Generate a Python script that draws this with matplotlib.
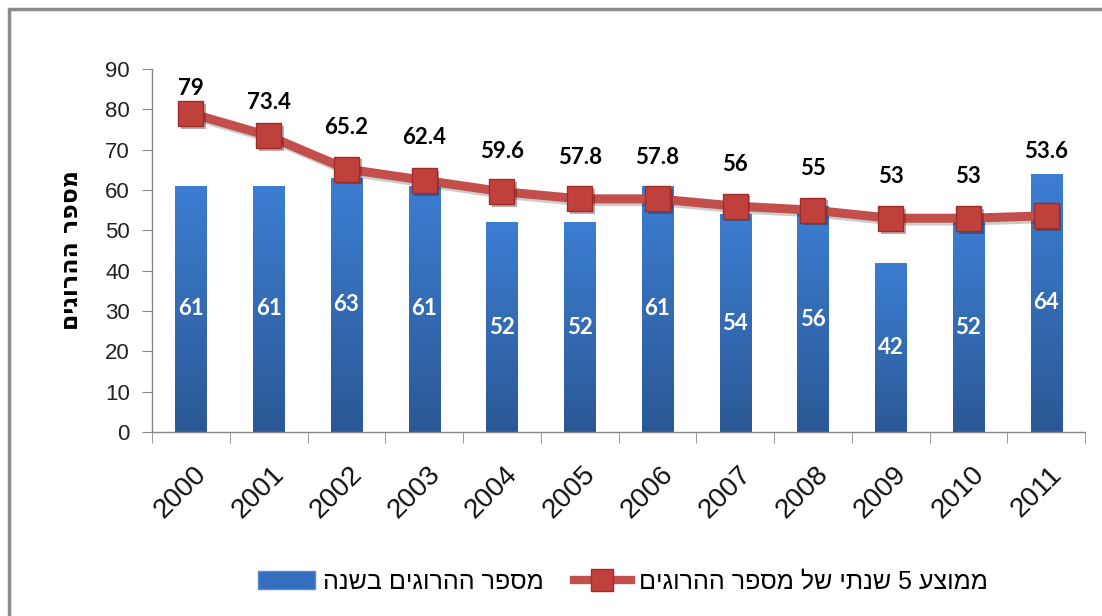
import numpy as np
import matplotlib
matplotlib.use("Agg")
import matplotlib.pyplot as plt
import matplotlib.patheffects as pe
import matplotlib.transforms as mtrans
from matplotlib.colors import LinearSegmentedColormap
from matplotlib.patches import Rectangle
from matplotlib.lines import Line2D

# data
years = ['2000', '2001', '2002', '2003', '2004', '2005',
         '2006', '2007', '2008', '2009', '2010', '2011']
killed = [61, 61, 63, 61, 52, 52, 61, 54, 56, 42, 52, 64]
avg5 = [79, 73.4, 65.2, 62.4, 59.6, 57.8, 57.8, 56, 55, 53, 53, 53.6]
avg5_text = ['79', '73.4', '65.2', '62.4', '59.6', '57.8',
             '57.8', '56', '55', '53', '53', '53.6']

# Hebrew strings (matplotlib has no bidi, so reverse to visual order)
ylabel_he = 'מספר ההרוגים'
bar_label_he = 'מספר ההרוגים בשנה'
line_label_he = 'ממוצע 5 שנתי של מספר ההרוגים'


def vis(s):
    return s[::-1]


plt.rcParams['font.family'] = ['Liberation Sans', 'DejaVu Sans']

fig = plt.figure(figsize=(11.02, 6.16), dpi=100)
fig.patch.set_facecolor('white')
ax = fig.add_axes([0.138, 0.2987, 0.8466, 0.5893])

x = np.arange(len(years))
bw = 0.4
bars = ax.bar(x, killed, width=bw, color='#3570c0', zorder=2)

# vertical gradient on every bar
cmap = LinearSegmentedColormap.from_list('blu', ['#2b5895', '#3c7ed2'])
grad = np.linspace(0, 1, 256).reshape(-1, 1)
for b in bars:
    x0, w, h = b.get_x(), b.get_width(), b.get_height()
    im = ax.imshow(grad, extent=[x0, x0 + w, 0, h], origin='lower',
                   cmap=cmap, aspect='auto', zorder=2.1)
    im.set_clip_path(b)

for xi, v in zip(x, killed):
    ax.text(xi, v / 2, str(v), ha='center', va='center', color='white',
            fontsize=16, fontweight='bold', family='Lato', zorder=3)

line_red = '#c0413c'
ax.plot(x, avg5, color='#c24f4c', lw=6.5, zorder=4, solid_capstyle='round',
        path_effects=[pe.SimpleLineShadow(offset=(1.5, -2), alpha=0.2), pe.Normal()])
ax.plot(x, avg5, ls='none', marker='s', markersize=18, markerfacecolor=line_red,
        markeredgecolor='#9e2c28', markeredgewidth=1, zorder=5,
        path_effects=[pe.SimplePatchShadow(offset=(2, -2), alpha=0.35), pe.Normal()])

# label offsets above markers, in points
label_dy = [18, 24, 30, 31, 29, 30, 30, 30, 30, 30, 30, 46]
for xi, v, t, dy in zip(x, avg5, avg5_text, label_dy):
    ax.annotate(t, (xi, v), xytext=(0, dy), textcoords='offset points',
                ha='center', va='center', fontsize=16, fontweight='bold',
                family='Lato', color='black', zorder=6)

ax.set_xlim(-0.5, len(years) - 0.5)
ax.set_ylim(0, 90)
ax.set_yticks(np.arange(0, 91, 10))
ax.tick_params(axis='y', labelsize=16, color='#888888', length=7,
               labelcolor='#222222', pad=9)

ax.set_xticks(x)
ax.set_xticklabels(years, rotation=45, ha='right', rotation_mode='anchor',
                   fontsize=20, color='#111111')
ax.set_xticks(np.arange(-0.5, len(years), 1), minor=True)
ax.tick_params(axis='x', which='major', length=0, pad=21)
ax.tick_params(axis='x', which='minor', length=8, color='#888888')
off = mtrans.ScaledTranslation(2 / 72, 0, fig.dpi_scale_trans)
for lbl in ax.get_xticklabels():
    lbl.set_transform(lbl.get_transform() + off)

for s in ['top', 'right']:
    ax.spines[s].set_visible(False)
for s in ['left', 'bottom']:
    ax.spines[s].set_color('#888888')
    ax.spines[s].set_linewidth(1)

ax.set_ylabel(vis(ylabel_he), fontsize=17, fontweight='bold', labelpad=16,
              family=['DejaVu Sans'])

handles = [Rectangle((0, 0), 1, 1, facecolor='#3570c0', edgecolor='#5a8ad0'),
           Line2D([], [], color='#c24f4c', lw=6, marker='s', markersize=16,
                  markerfacecolor=line_red, markeredgecolor='#9e2c28')]
fig.legend(handles, [vis(bar_label_he), vis(line_label_he)], ncol=2,
           loc='center', bbox_to_anchor=(0.565, 0.056), frameon=False,
           fontsize=18, handlelength=2.3, handleheight=0.7, columnspacing=1.2,
           handletextpad=0.3)

# outer grey frame
fig.add_artist(Rectangle((9 / 1102, -0.05), 1.2, 1 - 9 / 616 + 0.05,
                         transform=fig.transFigure, fill=False,
                         edgecolor='#8c8c8c', lw=2.5))

fig.savefig('out.png', dpi=100, facecolor='white')
